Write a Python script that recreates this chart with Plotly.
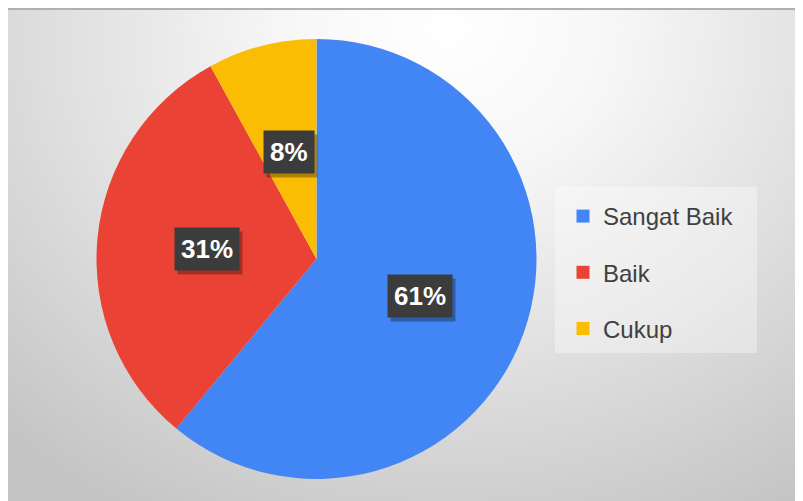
import math, base64
import plotly.graph_objects as go

# ---- data ----
labels = ["Sangat Baik", "Baik", "Cukup"]
values = [61, 31, 8]
colors = ["#4285F4", "#EA4335", "#FBBC04"]

W, H = 803, 501
FONT = "Arial, Liberation Sans, sans-serif"

# background gradient (decoration)
svg = f'''<svg xmlns="http://www.w3.org/2000/svg" width="{W}" height="{H}" viewBox="0 0 {W} {H}" preserveAspectRatio="none">
<defs><radialGradient id="g" gradientUnits="userSpaceOnUse" cx="440" cy="20" r="560" gradientTransform="translate(440 20) scale(1.15 1) translate(-440 -20)">
<stop offset="0" stop-color="#ffffff"/><stop offset="0.25" stop-color="#f7f7f7"/><stop offset="0.6" stop-color="#e0e0e0"/><stop offset="1" stop-color="#c4c4c4"/>
</radialGradient></defs>
<rect x="0" y="0" width="{W}" height="{H}" fill="url(#g)"/>
<rect x="0" y="0" width="{W}" height="2" fill="#b0b0b0"/>
</svg>'''
src = "data:image/svg+xml;base64," + base64.b64encode(svg.encode()).decode()

dom_x = [88.5 / W, 528.5 / W]
dom_y = [1 - 471 / H, 1 - 31 / H]

fig = go.Figure()
fig.add_trace(go.Pie(
    labels=labels, values=values, sort=False, direction="clockwise", rotation=0,
    marker=dict(colors=colors, line=dict(width=0)),
    textinfo="none", hoverinfo="label+percent", showlegend=False,
    domain=dict(x=dom_x, y=dom_y),
))

# legend entries as dummy traces (for vertical spacing)
for i, (lab, col) in enumerate(zip(labels, colors)):
    fig.add_trace(go.Scatter(x=[None], y=[None], mode="markers", name=lab,
                             legendgroup=f"g{i}",
                             marker=dict(symbol="square", size=13, color=col)))

# percentage labels at half radius along slice midpoints
total = sum(values)
cx = (dom_x[0] + dom_x[1]) / 2
cy = (dom_y[0] + dom_y[1]) / 2
r_px = min((dom_x[1] - dom_x[0]) * W, (dom_y[1] - dom_y[0]) * H) / 2
cum = 0
for v in values:
    mid = (cum + v / 2) / total * 2 * math.pi
    cum += v
    ax = cx + 0.5 * r_px * math.sin(mid) / W
    ay = cy + 0.5 * r_px * math.cos(mid) / H
    txt = f"<b>{round(v / total * 100)}%</b>"
    common = dict(x=ax, y=ay, xref="paper", yref="paper", text=txt, showarrow=False,
                  xanchor="center", yanchor="middle", borderpad=6)
    fig.add_annotation(**common, font=dict(family=FONT, size=26, color="rgba(0,0,0,0)"),
                       bgcolor="rgba(0,0,0,0.3)", xshift=3, yshift=-4)
    fig.add_annotation(**common, font=dict(family=FONT, size=26, color="white"),
                       bgcolor="#3c3c3c")

fig.update_layout(
    width=W, height=H, margin=dict(l=0, r=0, t=0, b=0),
    paper_bgcolor="white", plot_bgcolor="rgba(0,0,0,0)",
    xaxis=dict(visible=False), yaxis=dict(visible=False),
    images=[dict(source=src, xref="paper", yref="paper", x=0, y=1,
                 sizex=1, sizey=1, xanchor="left", yanchor="top",
                 sizing="stretch", layer="below")],
    shapes=[dict(type="rect", xref="paper", yref="paper", x0=547 / W, x1=749 / W,
                 y0=1 - 345 / H, y1=1 - 179 / H, fillcolor="rgba(255,255,255,0.35)",
                 line=dict(width=0), layer="below")],
    legend=dict(x=555 / W, y=1 - 186 / H, xanchor="left", yanchor="top",
                bgcolor="rgba(0,0,0,0)", tracegroupgap=22, itemwidth=30,
                font=dict(family=FONT, size=24, color="#404040")),
    font=dict(family=FONT),
)

fig.write_html("out.html")
